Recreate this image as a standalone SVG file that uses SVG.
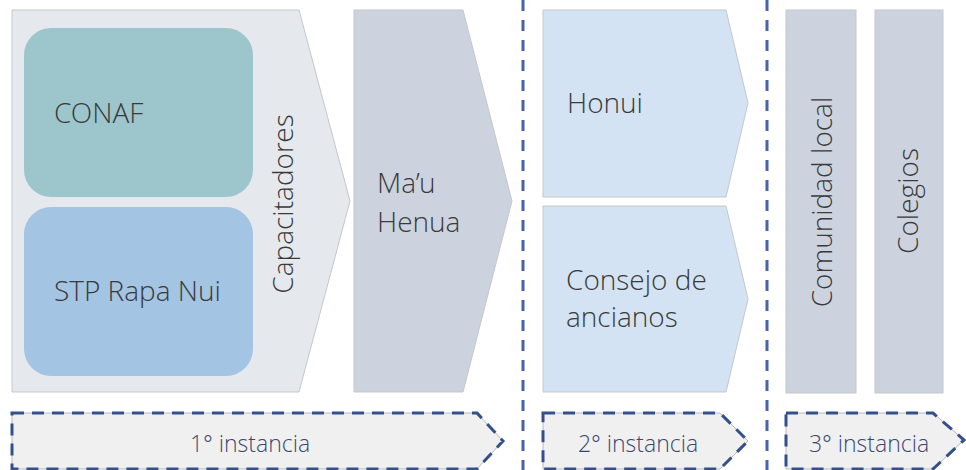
<svg xmlns="http://www.w3.org/2000/svg" width="966" height="470" viewBox="0 0 966 470">
<style>
.t{font-family:"Open Sans Light","Open Sans","Liberation Sans",sans-serif;font-weight:300;font-size:28px;fill:#3a3a3a}
.b{font-family:"Open Sans Light","Open Sans","Liberation Sans",sans-serif;font-weight:300;font-size:23px;fill:#3a4670}
.shape{stroke:#c4c7cc;stroke-width:1}
.banner{fill:#f0f0f0;stroke:#b8b8b8;stroke-width:1}
.bdash{fill:none;stroke:#34508a;stroke-width:3;stroke-dasharray:12 8}
.sep{stroke:#4a62a8;stroke-width:3;stroke-dasharray:11 9;fill:none}
</style>
<rect width="966" height="470" fill="#ffffff"/>
<g id="capacitadores">
<path class="shape" d="M12,10 L299,10 L350,201 L299,392 L12,392 Z" fill="#e5e8ed"/>
<text class="t" transform="translate(293,204) rotate(-90)" text-anchor="middle">Capacitadores</text>
</g>
<g id="conaf">
<rect x="24" y="28" width="229" height="169" rx="27" fill="#9dc6cc"/>
<text class="t" x="54" y="123">CONAF</text>
</g>
<g id="stp">
<rect x="24" y="207" width="229" height="169" rx="27" fill="#a3c4e2"/>
<text class="t" x="54" y="301">STP Rapa Nui</text>
</g>
<g id="mauhenua">
<path class="shape" d="M354,10 L463,10 L512,201 L463,392 L354,392 Z" fill="#cdd3de"/>
<text class="t" x="377" y="193">Ma’u</text>
<text class="t" x="377" y="232">Henua</text>
</g>
<g id="honui">
<path class="shape" d="M543,10 L726,10 L748,103 L726,197 L543,197 Z" fill="#d4e3f4"/>
<text class="t" x="567" y="113">Honui</text>
</g>
<g id="consejo">
<path class="shape" d="M543,206 L726,206 L748,299 L726,392 L543,392 Z" fill="#d4e3f4"/>
<text class="t" x="566" y="290">Consejo de</text>
<text class="t" x="566" y="327">ancianos</text>
</g>
<g id="comunidad">
<rect class="shape" x="786" y="10" width="70" height="383" fill="#cdd3de"/>
<text class="t" transform="translate(832,202) rotate(-90)" text-anchor="middle">Comunidad local</text>
</g>
<g id="colegios">
<rect class="shape" x="875" y="10" width="68" height="383" fill="#cdd3de"/>
<text class="t" transform="translate(918,201) rotate(-90)" text-anchor="middle">Colegios</text>
</g>
<g id="instancia1">
<path class="banner" d="M12,413 L477,413 L503,441 L477,469 L12,469 Z"/>
<path class="bdash" d="M12,413 L477,413 L503,441 L477,469 L12,469 Z"/>
<text class="b" x="250" y="452" text-anchor="middle">1° instancia</text>
</g>
<g id="instancia2">
<path class="banner" d="M543,413 L720,413 L748,441 L720,469 L543,469 Z"/>
<path class="bdash" d="M543,413 L720,413 L748,441 L720,469 L543,469 Z"/>
<text class="b" x="638" y="452" text-anchor="middle">2° instancia</text>
</g>
<g id="instancia3">
<path class="banner" d="M786,413 L933,413 L964,440 L933,469 L786,469 Z"/>
<path class="bdash" d="M786,413 L933,413 L964,440 L933,469 L786,469 Z"/>
<text class="b" x="869" y="452" text-anchor="middle">3° instancia</text>
</g>
<g id="connectors">
<line class="sep" x1="523" y1="0" x2="523" y2="470"/>
<line class="sep" x1="767" y1="0" x2="767" y2="470"/>
</g>
</svg>
